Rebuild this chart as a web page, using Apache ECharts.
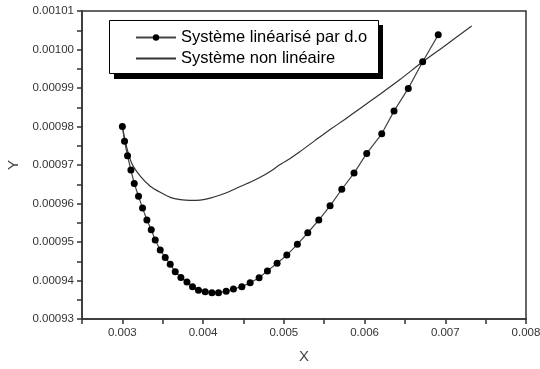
<!DOCTYPE html>
<html>
<head>
<meta charset="utf-8">
<script src="https://cdn.jsdelivr.net/npm/echarts@6/dist/echarts.min.js"></script>
<style>
  html, body { margin: 0; padding: 0; background: #fff; }
  #chart { width: 540px; height: 369px; }
</style>
</head>
<body>
<div id="chart"></div>
<script>
// Data
var seriesNames = ['Système linéarisé par d.o', 'Système non linéaire'];

var linX = [0.003000, 0.003027, 0.003064, 0.003106, 0.003147, 0.003200, 0.003250, 0.003304, 0.003358, 0.003407,
            0.003469, 0.003531, 0.003593, 0.003655, 0.003725, 0.003800, 0.003869, 0.003943, 0.004026, 0.004109,
            0.004191, 0.004286, 0.004376, 0.004480, 0.004583, 0.004694, 0.004797, 0.004917, 0.005037, 0.005168,
            0.005297, 0.005433, 0.005573, 0.005718, 0.005870, 0.006027, 0.006213, 0.006365, 0.006542, 0.006720,
            0.006913];
var linY = [0.0009800, 0.0009762, 0.0009724, 0.0009687, 0.0009652, 0.0009619, 0.0009588, 0.0009557, 0.0009532, 0.0009505,
            0.0009479, 0.0009460, 0.0009442, 0.0009423, 0.0009408, 0.0009396, 0.0009384, 0.0009375, 0.0009371, 0.0009368,
            0.0009368, 0.0009372, 0.0009378, 0.0009384, 0.0009394, 0.0009407, 0.0009425, 0.0009445, 0.0009466, 0.0009494,
            0.0009524, 0.0009557, 0.0009594, 0.0009637, 0.0009679, 0.0009730, 0.0009781, 0.0009840, 0.0009899, 0.0009968,
            0.0010038];

var nlX = [0.003000, 0.003057, 0.003119, 0.003222, 0.003345, 0.003469, 0.003593, 0.003717, 0.003840, 0.003964,
           0.004088, 0.004212, 0.004335, 0.004459, 0.004583, 0.004707, 0.004831, 0.004954, 0.005078, 0.005202,
           0.005388, 0.005573, 0.005759, 0.005945, 0.006192, 0.006439, 0.006720, 0.006996, 0.007327];
var nlY = [0.0009799, 0.0009743, 0.0009703, 0.0009671, 0.0009645, 0.0009629, 0.0009616, 0.0009610, 0.0009608, 0.0009609,
           0.0009614, 0.0009622, 0.0009632, 0.0009644, 0.0009655, 0.0009668, 0.0009683, 0.0009701, 0.0009717, 0.0009735,
           0.0009764, 0.0009792, 0.0009819, 0.0009847, 0.0009884, 0.0009922, 0.0009968, 0.0010010, 0.0010061];

var xMin = 0.0025, xMax = 0.008, xStep = 0.0005;
var yMin = 0.00093, yMax = 0.00101, yStep = 0.000005;

function zip(a, b) { return a.map(function (v, i) { return [v, b[i]]; }); }

var chart = echarts.init(document.getElementById('chart'), null, { renderer: 'canvas' });
var font = 'Liberation Sans, Arial, sans-serif';
chart.setOption({
  backgroundColor: '#fff',
  animation: false,
  grid: { left: 82, right: 14, top: 11, bottom: 50, outerBoundsMode: 'none', containLabel: false,
          show: true, borderColor: '#333', borderWidth: 1.5, backgroundColor: 'transparent' },
  xAxis: {
    type: 'value', min: xMin, max: xMax, interval: xStep,
    name: 'X', nameLocation: 'middle', nameGap: 30,
    nameTextStyle: { fontFamily: font, fontSize: 15, color: '#444' },
    axisLine: { show: true, lineStyle: { color: '#333', width: 1.5 } },
    axisTick: { show: true, inside: false, length: 5, lineStyle: { color: '#333', width: 1.5 } },
    splitLine: { show: false },
    axisLabel: {
      fontFamily: font, fontSize: 11.5, color: '#333', margin: 8, showMinLabel: true, showMaxLabel: true,
      formatter: function (v) { return Math.round(v / 0.0005) % 2 === 0 ? v.toFixed(3) : ''; }
    }
  },
  yAxis: {
    type: 'value', min: yMin, max: yMax, interval: yStep,
    name: 'Y', nameLocation: 'middle', nameGap: 61,
    nameTextStyle: { fontFamily: font, fontSize: 15, color: '#444' },
    axisLine: { show: true, lineStyle: { color: '#333', width: 1.5 } },
    axisTick: { show: true, inside: false, length: 5, lineStyle: { color: '#333', width: 1.5 } },
    splitLine: { show: false },
    axisLabel: {
      fontFamily: font, fontSize: 11.5, color: '#333', margin: 8,
      formatter: function (v) { return Math.round(v / 0.000005) % 2 === 0 ? v.toFixed(5) : ''; }
    }
  },
  graphic: [
    { type: 'rect', left: 114, top: 25, shape: { width: 269, height: 54 }, style: { fill: '#000' }, z: 10 },
    { type: 'rect', left: 109, top: 20, shape: { width: 269, height: 53 }, style: { fill: '#fff', stroke: '#000', lineWidth: 1 }, z: 11 }
  ],
  legend: {
    orient: 'vertical', left: 135, top: 29, padding: 0, z: 20,
    itemWidth: 40, itemHeight: 8, itemGap: 4,
    textStyle: { fontFamily: font, fontSize: 16.5, color: '#000' },
    data: [
      { name: seriesNames[0] },
      { name: seriesNames[1], itemStyle: { opacity: 0 } }
    ]
  },
  series: [
    {
      name: seriesNames[0], type: 'line', data: zip(linX, linY),
      symbol: 'circle', symbolSize: 7, showSymbol: true,
      lineStyle: { color: '#444', width: 1.2 },
      itemStyle: { color: '#000', borderWidth: 0 },
      z: 3
    },
    {
      name: seriesNames[1], type: 'line', data: zip(nlX, nlY),
      symbol: 'none', smooth: 0.2,
      lineStyle: { color: '#333', width: 1.2 },
      itemStyle: { color: '#333' },
      z: 2
    }
  ]
});
</script>
</body>
</html>
